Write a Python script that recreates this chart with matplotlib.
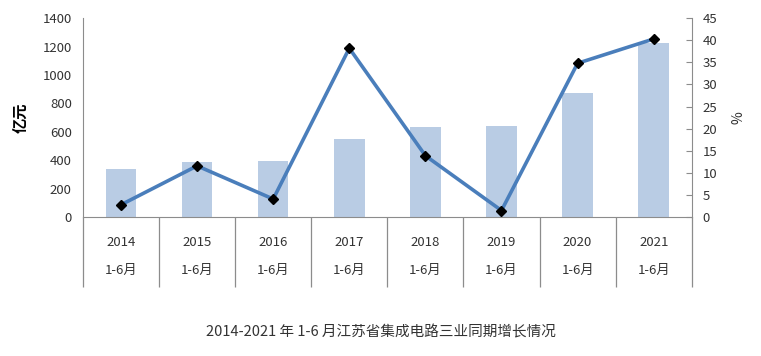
import matplotlib
matplotlib.use("Agg")
import matplotlib.pyplot as plt
import matplotlib.transforms as mtransforms
import numpy as np

plt.rcParams['font.family'] = ['Noto Sans CJK SC', 'DejaVu Sans']

# data
years = ['2014', '2015', '2016', '2017', '2018', '2019', '2020', '2021']
period = '1-6月'
revenue = [340, 387, 396, 551, 635, 642, 871, 1227]      # 亿元
growth = [2.8, 11.6, 4.1, 38.2, 13.9, 1.5, 34.8, 40.3]   # %
left_ticks = [0, 200, 400, 600, 800, 1000, 1200, 1400]
right_ticks = [0, 5, 10, 15, 20, 25, 30, 35, 40, 45]
title = '2014-2021 年 1-6 月江苏省集成电路三业同期增长情况'

bar_color = '#b9cce4'
line_color = '#4a7ebb'
axis_color = '#8c8c8c'
text_color = '#333333'

fig = plt.figure(figsize=(7.61, 3.56), dpi=100)
ax = fig.add_axes([0.109, 0.390, 0.800, 0.559])
ax2 = ax.twinx()

x = np.arange(len(years))
ax.bar(x, revenue, width=0.4, color=bar_color, zorder=1)
ax2.plot(x, growth, color=line_color, lw=2.6, marker='D', ms=5,
         mfc='black', mec='black', zorder=3)

ax.set_xlim(-0.5, len(years) - 0.5)
ax.set_ylim(0, 1400)
ax2.set_ylim(0, 45)
ax.set_yticks(left_ticks)
ax2.set_yticks(right_ticks)
ax.set_xticks([])

for a in (ax, ax2):
    for s in a.spines.values():
        s.set_visible(False)
ax.spines['left'].set_visible(True)
ax.spines['left'].set_color(axis_color)
ax.spines['bottom'].set_visible(True)
ax.spines['bottom'].set_color(axis_color)
ax2.spines['right'].set_visible(True)
ax2.spines['right'].set_color(axis_color)

ax.tick_params(axis='y', length=0, labelsize=9.5, labelcolor=text_color, pad=8)
ax2.tick_params(axis='y', direction='in', length=4, color=axis_color,
                labelsize=9.5, labelcolor=text_color, pad=8)

ax.set_ylabel('亿元', fontsize=11, fontweight='bold', color='black', labelpad=10)
ax2.set_ylabel('%', fontsize=10, color=text_color, labelpad=10)

# multi-level category axis
trans = mtransforms.blended_transform_factory(ax.transData, ax.transAxes)
bounds = np.arange(len(years) + 1) - 0.5
ax.vlines(bounds, -0.35, 0, transform=trans, color=axis_color, lw=0.9, clip_on=False)
for i, yr in enumerate(years):
    ax.text(i, -0.125, yr, transform=trans, ha='center', va='center',
            fontsize=9.5, color=text_color)
    ax.text(i, -0.27, period, transform=trans, ha='center', va='center',
            fontsize=9.5, color=text_color)

fig.text(0.50, 0.065, title, ha='center', va='center', fontsize=10.5, color=text_color)

fig.savefig('out.png', dpi=100)
